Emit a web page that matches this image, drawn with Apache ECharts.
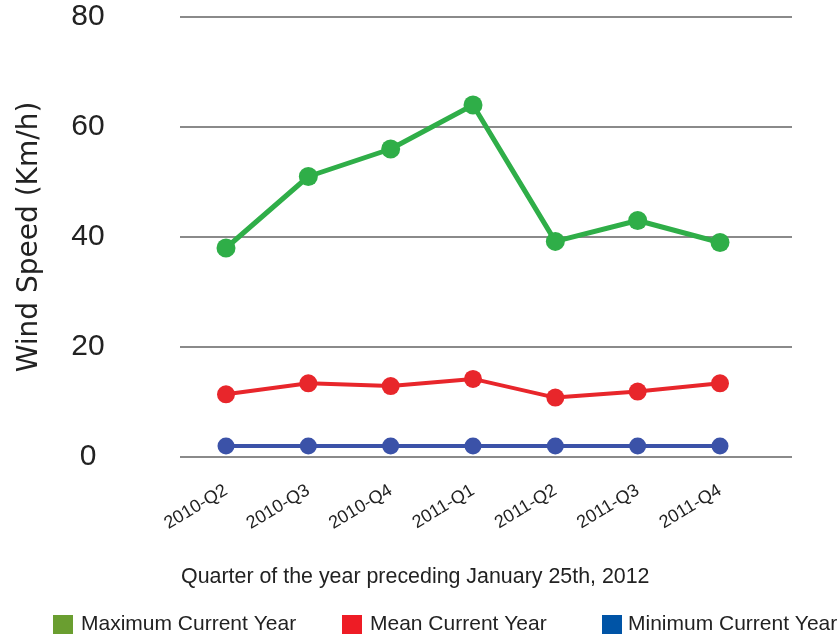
<!DOCTYPE html>
<html>
<head>
<meta charset="utf-8">
<script src="https://cdn.jsdelivr.net/npm/echarts@6/dist/echarts.min.js"></script>
<style>html,body{margin:0;padding:0;background:#fff}#c{width:840px;height:639px}</style>
</head>
<body>
<div id="c"></div>
<script>
var categories = ['2010-Q2','2010-Q3','2010-Q4','2011-Q1','2011-Q2','2011-Q3','2011-Q4'];
var maxValues = [38, 51, 56, 64, 39.2, 43, 39];
var meanValues = [11.4, 13.4, 12.9, 14.2, 10.8, 11.9, 13.4];
var minValues = [2, 2, 2, 2, 2, 2, 2];
var seriesNames = ['Maximum Current Year', 'Mean Current Year', 'Minimum Current Year'];
var yTicks = [0, 20, 40, 60, 80];

var FONT = 'Liberation Sans';
var chart = echarts.init(document.getElementById('c'), null, {renderer: 'canvas'});
var lineColors = ['#2fae48', '#e8262b', '#3b52a8'];
var legendColors = ['#6a9e30', '#ee1c25', '#0054a6'];
var legendLefts = [53, 342, 602];
var legendPads = [3, 3, 1];

chart.setOption({
  animation: false,
  backgroundColor: '#fff',
  title: {
    text: 'Quarter of the year preceding January 25th, 2012',
    left: 176, top: 562,
    textStyle: {fontFamily: FONT, fontSize: 21.4, fontWeight: 'normal', color: '#222'}
  },
  legend: seriesNames.map(function (n, i) {
    return {
      data: [{name: n, itemStyle: {color: legendColors[i]}}],
      left: legendLefts[i], top: 614,
      icon: 'rect', itemWidth: 20, itemHeight: 19, itemGap: 0,
      textStyle: {fontFamily: FONT, fontSize: 21, color: '#222', padding: [0, 0, 0, legendPads[i]]},
      padding: 0
    };
  }),
  grid: [
    {left: 180, right: 48, top: 17, bottom: 182},
    {left: 226, right: 120, top: 17, bottom: 182}
  ],
  xAxis: [
    {gridIndex: 0, type: 'category', data: categories, show: false},
    {
      gridIndex: 1, type: 'category', data: categories, boundaryGap: false,
      axisLine: {show: false}, axisTick: {show: false},
      axisLabel: {rotate: 31, margin: 32, fontFamily: FONT, fontSize: 18, color: '#222', interval: 0}
    }
  ],
  yAxis: [
    {
      gridIndex: 0, type: 'value', min: yTicks[0], max: yTicks[yTicks.length - 1], interval: 20,
      name: 'Wind Speed (Km/h)', nameLocation: 'middle', nameGap: 136, nameRotate: 90,
      nameTextStyle: {fontFamily: 'DejaVu Sans', fontSize: 28, color: '#222'},
      axisLine: {show: false}, axisTick: {show: false},
      axisLabel: {margin: 92, align: 'center', fontFamily: FONT, fontSize: 30, color: '#222'},
      splitLine: {lineStyle: {color: '#8a8a8a', width: 2}}
    },
    {
      gridIndex: 1, type: 'value', min: yTicks[0], max: yTicks[yTicks.length - 1], interval: 20,
      show: false, splitLine: {show: false}
    }
  ],
  series: [
    {name: seriesNames[0], type: 'line', xAxisIndex: 1, yAxisIndex: 1, data: maxValues,
     symbol: 'circle', symbolSize: 19, lineStyle: {width: 5, color: lineColors[0]}, itemStyle: {color: lineColors[0]}},
    {name: seriesNames[1], type: 'line', xAxisIndex: 1, yAxisIndex: 1, data: meanValues,
     symbol: 'circle', symbolSize: 18, lineStyle: {width: 4, color: lineColors[1]}, itemStyle: {color: lineColors[1]}},
    {name: seriesNames[2], type: 'line', xAxisIndex: 1, yAxisIndex: 1, data: minValues,
     symbol: 'circle', symbolSize: 17, lineStyle: {width: 4, color: lineColors[2]}, itemStyle: {color: lineColors[2]}}
  ]
});
</script>
</body>
</html>
